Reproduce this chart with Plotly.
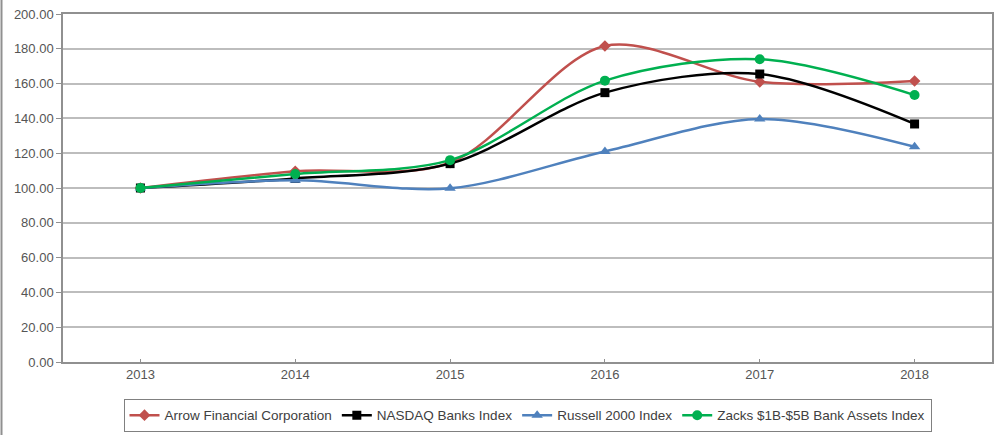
import plotly.graph_objects as go

years = ["2013", "2014", "2015", "2016", "2017", "2018"]
arrow = [100.0, 109.6, 114.5, 181.6, 161.0, 161.5]
nasdaq = [100.0, 105.5, 114.0, 154.8, 165.5, 136.8]
russell = [100.0, 104.4, 99.8, 121.0, 139.7, 123.7]
zacks = [100.0, 108.0, 116.0, 161.7, 174.0, 153.4]
y_ticks = [0, 20, 40, 60, 80, 100, 120, 140, 160, 180, 200]

series = [
    ("Arrow Financial Corporation", arrow, "#C0504D", "diamond", 9),
    ("NASDAQ Banks Index", nasdaq, "#000000", "square", 9),
    ("Russell 2000 Index", russell, "#4F81BD", "triangle-up", 10),
    ("Zacks $1B-$5B Bank Assets Index", zacks, "#00B050", "circle", 10),
]

fig = go.Figure()
for name, vals, color, sym, sz in series:
    fig.add_trace(go.Scatter(
        x=years, y=vals, name=name, mode="lines+markers",
        line=dict(color=color, width=2.5, shape="spline", smoothing=0.9),
        marker=dict(symbol=sym, size=sz, color=color),
    ))

# darker gridlines at 140 and 160 as in the reference
for v in (140, 160):
    fig.add_shape(type="line", xref="paper", yref="y", x0=0, x1=1, y0=v, y1=v,
                  line=dict(color="#707070", width=1.2), layer="below")

# left border of the image
fig.add_shape(type="line", xref="paper", yref="paper", x0=-0.0662, x1=-0.0662,
              y0=-0.21, y1=1.05, line=dict(color="#909090", width=2))

fig.update_layout(
    width=998, height=435,
    margin=dict(l=63, r=6, t=14, b=73, autoexpand=False),
    paper_bgcolor="white", plot_bgcolor="white",
    font=dict(family="Liberation Sans, Arial, sans-serif", size=13, color="#555555"),
    showlegend=True,
    legend=dict(orientation="h", x=0.5, xanchor="center", y=-0.106, yanchor="top",
                bordercolor="#808080", borderwidth=1, font=dict(size=13.5, color="#404040"),
                itemwidth=30, tracegroupgap=0),
    xaxis=dict(type="category", range=[-0.5, 5.5], showgrid=False,
               showline=True, linecolor="#909090", linewidth=1.5, mirror=True,
               ticks="inside", ticklen=3, tickcolor="#909090", fixedrange=True),
    yaxis=dict(range=[0, 200], tickvals=y_ticks, tickformat=".2f",
               showgrid=True, gridcolor="#BDBDBD", gridwidth=1.5,
               showline=True, linecolor="#909090", linewidth=1.5, mirror=True,
               ticks="outside", ticklen=5, tickcolor="#909090", zeroline=False),
)

fig.write_html("out.html")
